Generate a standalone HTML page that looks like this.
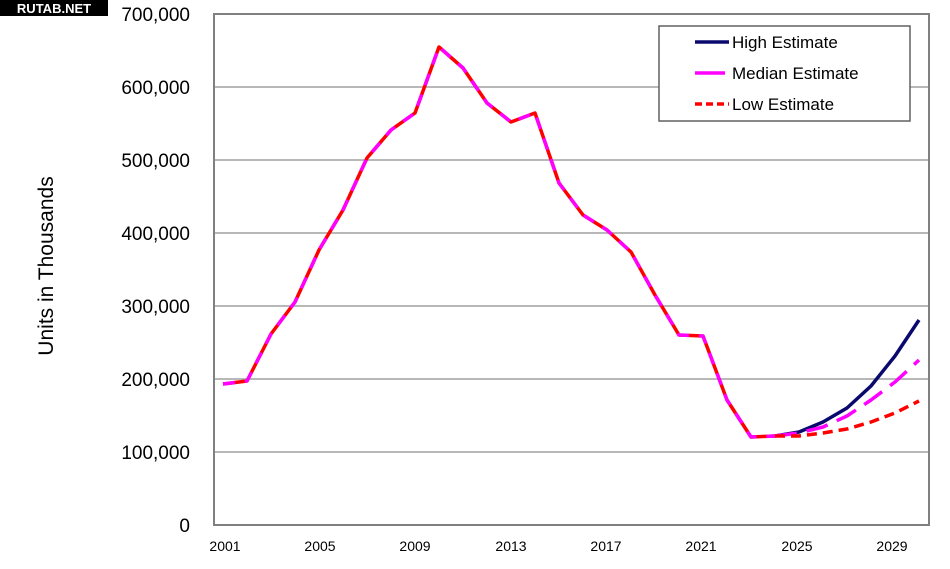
<!DOCTYPE html>
<html><head><meta charset="utf-8"><style>
body{margin:0;background:#fff;width:950px;height:564px;overflow:hidden;font-family:"Liberation Sans",Arial,sans-serif}
</style></head><body>
<svg width="950" height="564" xmlns="http://www.w3.org/2000/svg" font-family="Liberation Sans, Arial, sans-serif">
<rect width="950" height="564" fill="#fff"/>
<g stroke="#a0a0a0" stroke-width="1.5">
<line x1="214" y1="87" x2="929" y2="87"/>
<line x1="214" y1="160" x2="929" y2="160"/>
<line x1="214" y1="233" x2="929" y2="233"/>
<line x1="214" y1="306" x2="929" y2="306"/>
<line x1="214" y1="379" x2="929" y2="379"/>
<line x1="214" y1="452" x2="929" y2="452"/>
</g>
<rect x="214" y="14" width="715" height="511" fill="none" stroke="#808080" stroke-width="2"/>
<g font-size="19" text-anchor="end" fill="#000">
<text x="190" y="21">700,000</text>
<text x="190" y="94">600,000</text>
<text x="190" y="167">500,000</text>
<text x="190" y="240">400,000</text>
<text x="190" y="313">300,000</text>
<text x="190" y="386">200,000</text>
<text x="190" y="459">100,000</text>
<text x="190" y="532">0</text>
</g>
<g font-size="14" text-anchor="middle">
<text x="225" y="551">2001</text>
<text x="320" y="551">2005</text>
<text x="415" y="551">2009</text>
<text x="511" y="551">2013</text>
<text x="606" y="551">2017</text>
<text x="701" y="551">2021</text>
<text x="797" y="551">2025</text>
<text x="892" y="551">2029</text>
</g>
<text transform="translate(53,266) rotate(-90)" font-size="21" text-anchor="middle">Units in Thousands</text>
<g fill="none" stroke-width="3.5" stroke-linejoin="round">
<polyline stroke="#0a0a6e" points="775,436 799,432 823,422 847,408 871,386 895,356 919,320"/>
<polyline stroke="#ff00ff" stroke-dasharray="22,10" points="775,436 799,433 823,427 847,416 871,400 895,382 919,360"/>
<polyline stroke="#ff0000" stroke-dasharray="10,6" points="775,436 799,436 823,433 847,429 871,422 895,413 919,401"/>
<polyline stroke="#ff0000" points="223,384 247,381 271,334 295,302 319,250 343,210 367,158 391,130 415,113 439,47 463,68 487,103 511,122 535,113 559,183 583,215 607,230 631,252 655,295 679,335 703,336 727,400 751,437 775,436"/>
<polyline stroke="#ff00ff" stroke-dasharray="12,10" points="223,384 247,381 271,334 295,302 319,250 343,210 367,158 391,130 415,113 439,47 463,68 487,103 511,122 535,113 559,183 583,215 607,230 631,252 655,295 679,335 703,336 727,400 751,437 775,436"/>
</g>
<rect x="659" y="26" width="251" height="95" fill="#fff" stroke="#606060" stroke-width="1.5"/>
<line x1="695" y1="42" x2="729" y2="42" stroke="#0a0a6e" stroke-width="3.5"/>
<line x1="695" y1="73" x2="725" y2="73" stroke="#ff00ff" stroke-width="3.5"/>
<line x1="695" y1="104" x2="729" y2="104" stroke="#ff0000" stroke-width="3.5" stroke-dasharray="7,4"/>
<g font-size="17">
<text x="732" y="48">High Estimate</text>
<text x="732" y="79">Median Estimate</text>
<text x="732" y="110">Low Estimate</text>
</g>
<rect x="0" y="0" width="108" height="16" fill="#000"/>
<text x="54" y="13" font-size="13" font-weight="bold" fill="#fff" text-anchor="middle">RUTAB.NET</text>
</svg>
</body></html>
